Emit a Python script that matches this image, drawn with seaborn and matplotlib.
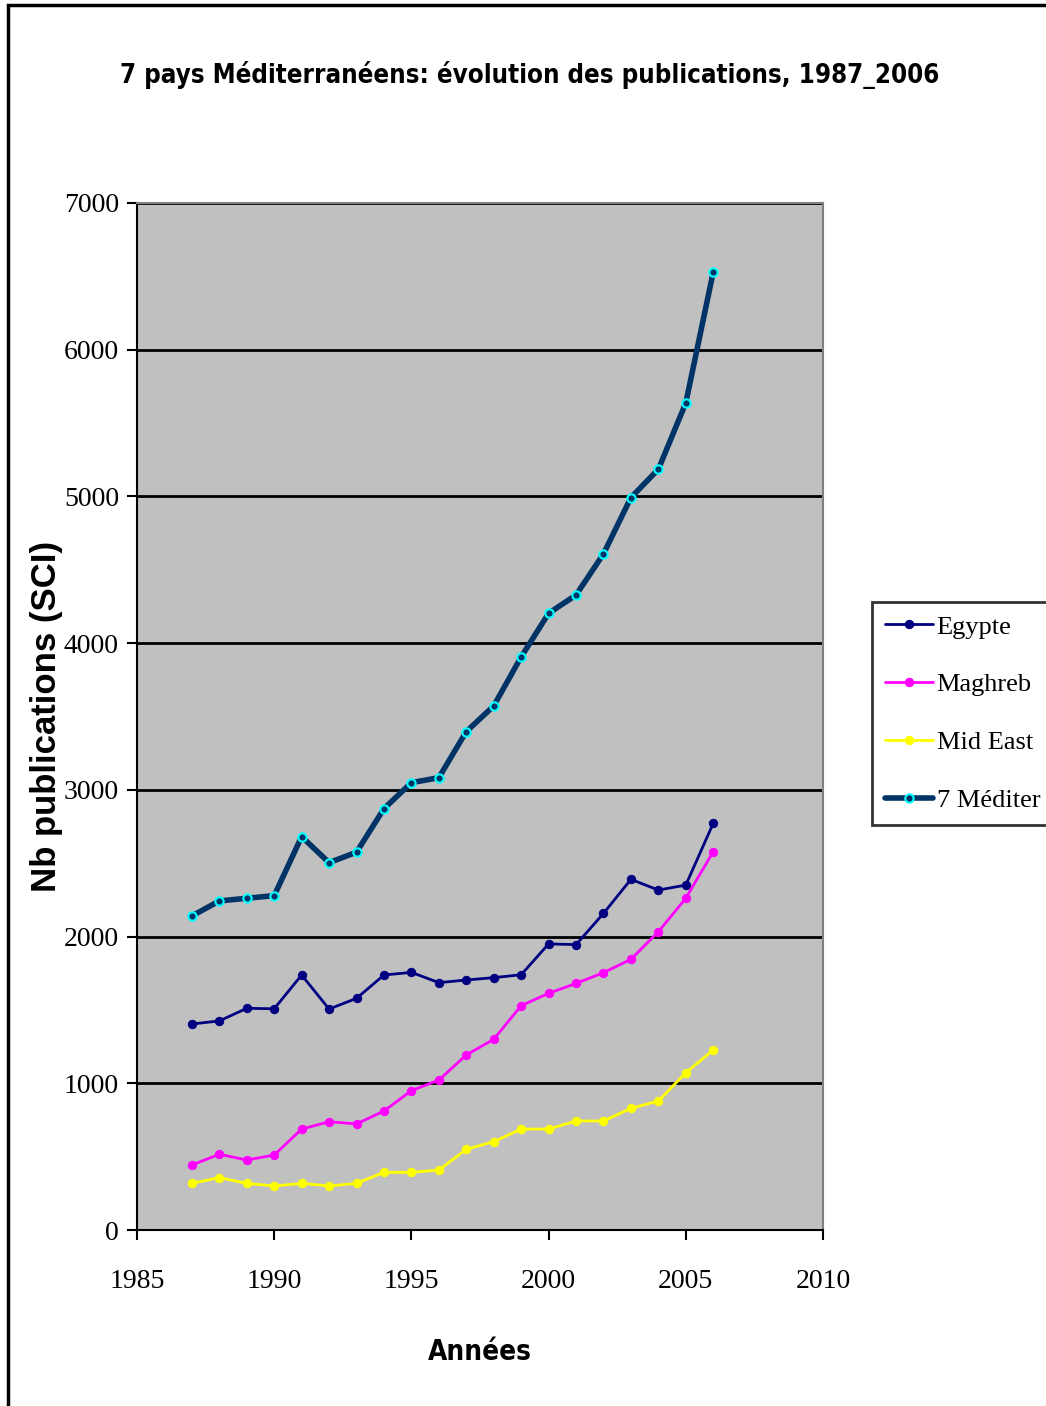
import numpy as np
import pandas as pd
import matplotlib
matplotlib.use("Agg")
import matplotlib.pyplot as plt
import seaborn as sns
from matplotlib.patches import Rectangle
from matplotlib import font_manager

# data
years = list(range(1987, 2007))
egypte = [1404, 1425, 1511, 1508, 1738, 1506, 1579, 1738, 1756, 1686,
          1704, 1720, 1740, 1950, 1945, 2158, 2390, 2317, 2351, 2772]
maghreb = [443, 516, 477, 511, 688, 738, 723, 811, 950, 1022,
           1193, 1300, 1529, 1613, 1681, 1754, 1845, 2033, 2261, 2579]
mid_east = [318, 357, 318, 300, 318, 300, 318, 393, 393, 409,
            550, 602, 688, 688, 743, 743, 829, 879, 1072, 1227]
mediter = [2140, 2243, 2261, 2279, 2681, 2504, 2575, 2872, 3049, 3083,
           3397, 3572, 3906, 4203, 4328, 4608, 4992, 5185, 5637, 6530]

series_names = ["Egypte", "Maghreb", "Mid East", "7 Méditer"]
colors = ["#000080", "#FF00FF", "#FFFF00", "#003366"]

df = pd.DataFrame({"year": years * 4,
                   "value": egypte + maghreb + mid_east + mediter,
                   "serie": np.repeat(series_names, len(years))})

sns.set_style("white")
plt.rcParams["text.color"] = "black"
plt.rcParams["axes.labelcolor"] = "black"
plt.rcParams["xtick.color"] = "black"
plt.rcParams["ytick.color"] = "black"

serif = ["Liberation Serif", "DejaVu Serif"]
# condensed bold sans for title / x label, if available
cond = None
for f in font_manager.fontManager.ttflist:
    if "Condensed" in f.fname and "Bold" in f.fname and "Sans" in f.fname \
            and "Oblique" not in f.fname and "Mono" not in f.fname:
        cond = f.fname
        break
cond_prop = font_manager.FontProperties(fname=cond) if cond else \
    font_manager.FontProperties(family="Liberation Sans", weight="bold")

fig = plt.figure(figsize=(10.46, 14.06), dpi=100)
ax = fig.add_axes([137 / 1046, 1 - 1230 / 1406, 686 / 1046, 1027 / 1406])
ax.set_facecolor("#C0C0C0")

for name, col in zip(series_names, colors):
    sub = df[df["serie"] == name]
    if name == "7 Méditer":
        sns.lineplot(data=sub, x="year", y="value", ax=ax, color=col, lw=4,
                     marker="o", ms=6, mfc=col, mec="#00FFFF", mew=1.5,
                     label=name, zorder=4)
    else:
        sns.lineplot(data=sub, x="year", y="value", ax=ax, color=col, lw=2,
                     marker="o", ms=6, mfc=col, mec=col,
                     label=name, zorder=3)

ax.set_xlim(1985, 2010)
ax.set_ylim(0, 7000)
ax.set_xticks(range(1985, 2011, 5))
ax.set_yticks(range(0, 7001, 1000))
ax.grid(axis="y", color="black", lw=2)
ax.set_axisbelow(True)
for s in ["top", "right"]:
    ax.spines[s].set_color("#808080")
    ax.spines[s].set_linewidth(1.5)
for s in ["left", "bottom"]:
    ax.spines[s].set_color("black")
    ax.spines[s].set_linewidth(1.5)
ax.tick_params(axis="both", direction="out", length=7, width=1.5,
               color="black", left=True, bottom=True)
for lab in ax.get_xticklabels() + ax.get_yticklabels():
    lab.set_family(serif)
    lab.set_fontsize(20)
    lab.set_color("black")
ax.tick_params(axis="x", pad=21)
ax.tick_params(axis="y", pad=6)

xl_prop = cond_prop.copy()
xl_prop.set_size(20)
ax.set_xlabel("Années", fontproperties=xl_prop, color="black")
ax.xaxis.set_label_coords(0.5, -0.105)
ax.set_ylabel("Nb publications (SCI)", family=["Liberation Sans", "DejaVu Sans"],
              fontsize=25, fontweight="bold", color="black")
ax.yaxis.set_label_coords(-0.108, 0.5)

t_prop = cond_prop.copy()
t_prop.set_size(18.5)
fig.text(530 / 1046, 1 - 75 / 1406,
         "7 pays Méditerranéens: évolution des publications, 1987_2006",
         ha="center", va="center", fontproperties=t_prop, color="black")

leg = ax.legend(loc="upper left", bbox_to_anchor=(872 / 1046, 1 - 602 / 1406),
                bbox_transform=fig.transFigure,
                prop={"family": serif, "size": 19},
                frameon=True, fancybox=False, edgecolor="black",
                handlelength=1.8, handletextpad=0.15,
                labelspacing=1.3, borderpad=0.5, borderaxespad=0)
leg.get_frame().set_linewidth(2)
for t in leg.get_texts():
    t.set_color("black")

# outer frame of the figure
fig.patches.append(Rectangle((8 / 1046, -0.01), 1.1, 1 - 5 / 1406 + 0.01,
                             transform=fig.transFigure, fill=False,
                             edgecolor="black", lw=2.5))

fig.savefig("out.png", dpi=100)
